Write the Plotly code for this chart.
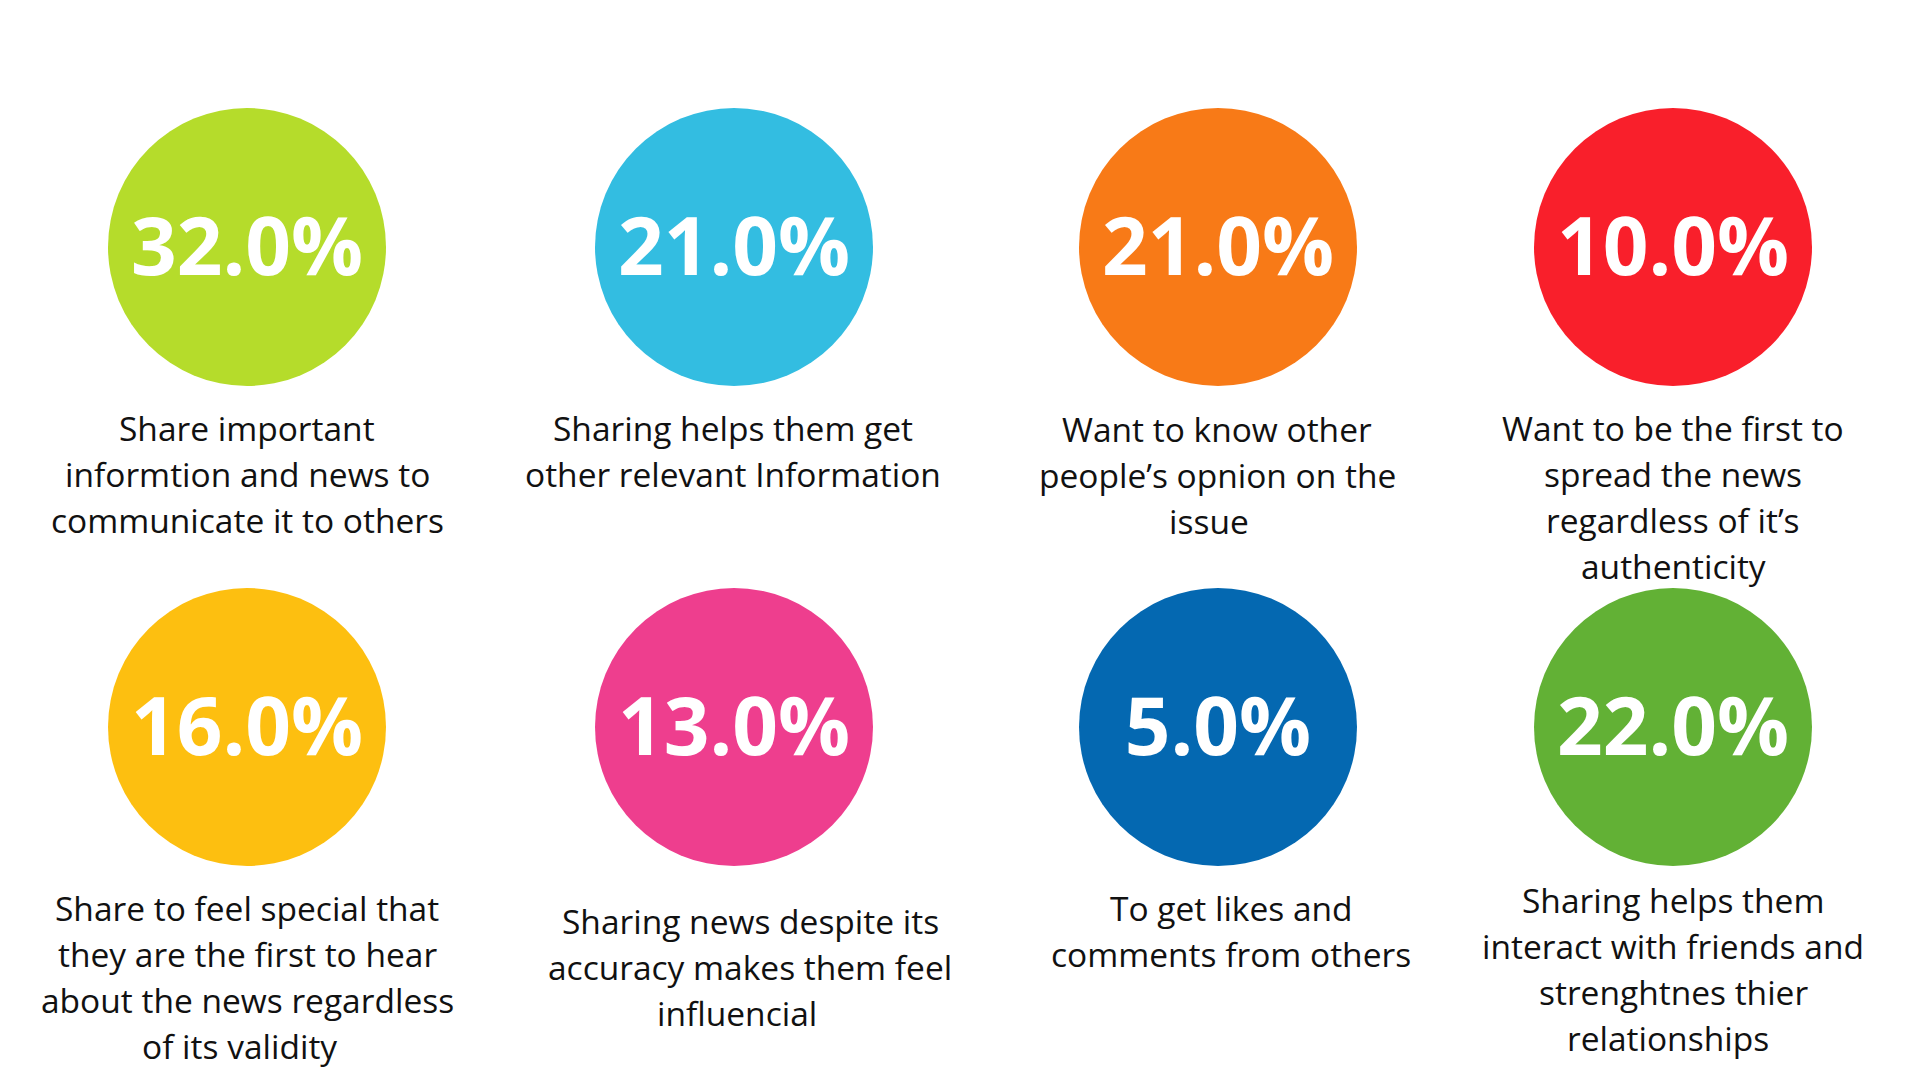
import plotly.graph_objects as go

# ==========================================
# Data
# ==========================================
shares = [32.0, 21.0, 21.0, 10.0, 16.0, 13.0, 5.0, 22.0]

reasons = [
    "Share important\ninformtion and news to\ncommunicate it to others",
    "Sharing helps them get\nother relevant Information",
    "Want to know other\npeople’s opnion on the\nissue",
    "Want to be the first to\nspread the news\nregardless of it’s\nauthenticity",
    "Share to feel special that\nthey are the first to hear\nabout the news regardless\nof its validity",
    "Sharing news despite its\naccuracy makes them feel\ninfluencial",
    "To get likes and\ncomments from others",
    "Sharing helps them\ninteract with friends and\nstrenghtnes thier\nrelationships",
]

circle_colors = ["#b5dc2b", "#33bde1", "#f87a17", "#f91f2b",
                 "#fdbf10", "#ee3e8e", "#0468b1", "#62b135"]

# ==========================================
# Layout (pixel grid, 1920x1080 canvas)
# ==========================================
COL_X = [247, 734, 1218, 1673]
ROW_Y = [247, 727]
DIAMETER = 278
LINE_GAP = 46
PCT_SHIFT = 8      # percentage text sits a touch below the circle centre
PAGE_PAD = 8       # browser body margin
# text block centre x and first baseline for each card
TEXT_X = [247, 733, 1217, 1673, 247, 750, 1231, 1673]
TEXT_BASE = [440, 440, 441, 440, 920, 933, 920, 912]
# small horizontal nudges for lines that sit off-centre in the original
LINE_NUDGE = {(2, 2): -8, (4, 3): -8, (5, 2): -13, (7, 3): -5}

xs = [COL_X[i % 4] for i in range(len(shares))]
ys = [ROW_Y[i // 4] for i in range(len(shares))]

fig = go.Figure()

fig.add_trace(go.Scatter(
    x=xs, y=ys,
    mode="markers",
    marker=dict(size=DIAMETER, color=circle_colors, line=dict(width=0)),
    hoverinfo="skip",
    showlegend=False,
))

fig.add_trace(go.Scatter(
    x=xs, y=[y + PCT_SHIFT for y in ys],
    mode="text",
    text=[f"{v:.1f}%" for v in shares],
    textposition="middle center",
    textfont=dict(family="Open Sans", size=80, color="white", weight="bold"),
    hoverinfo="skip",
    showlegend=False,
))

# description text, one annotation per line to keep the line spacing
for i, reason in enumerate(reasons):
    for j, line in enumerate(reason.split("\n")):
        fig.add_annotation(
            x=TEXT_X[i] + LINE_NUDGE.get((i, j), 0),
            y=TEXT_BASE[i] + j * LINE_GAP - 12,
            text=line, showarrow=False,
            xanchor="center", yanchor="middle",
            font=dict(family="Open Sans", size=33.5, color="#111111"),
        )

fig.update_layout(
    width=1920, height=1080,
    margin=dict(l=0, r=0, t=0, b=0),
    paper_bgcolor="white", plot_bgcolor="white",
    xaxis=dict(range=[PAGE_PAD, 1920 + PAGE_PAD], visible=False, fixedrange=True),
    yaxis=dict(range=[1080 + PAGE_PAD, PAGE_PAD], visible=False, fixedrange=True),
)

fig.write_html("out.html")
